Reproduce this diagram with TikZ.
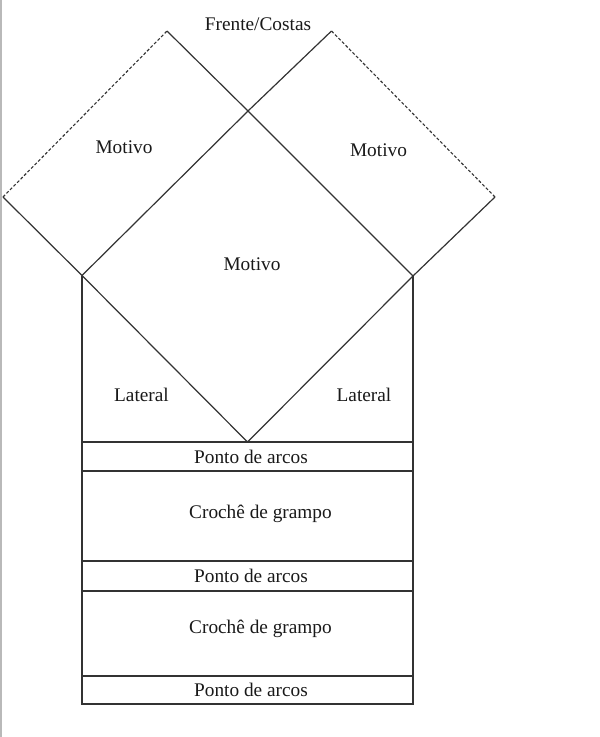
\documentclass[tikz,border=0pt]{standalone}
\usepackage{fontspec}
\setmainfont{Liberation Serif}
\begin{document}
\begin{tikzpicture}[x=1pt,y=-1pt,
  edge/.style={draw=black!80,line width=1.2pt},
  dashedge/.style={draw=black!80,line width=1.1pt,dash pattern=on 3pt off 2pt},
  lbl/.style={font=\fontsize{19.3}{23}\selectfont,inner sep=0pt,anchor=base,text=black!90}]
\useasboundingbox (0,0) rectangle (600,737);
\draw[gray!55,line width=2.2pt] (1,0) -- (1,737);
% corners
\coordinate (T1) at (167,31);
\coordinate (L1) at (3,197);
\coordinate (X)  at (248,111);
\coordinate (T2) at (331.5,31);
\coordinate (R2) at (495,197);
\coordinate (ML) at (82,275.5);
\coordinate (MR) at (413,276);
\coordinate (MB) at (247.5,442);
\coordinate (h1l) at (82,442);   \coordinate (h1r) at (413,442);
\coordinate (h2l) at (82,471);   \coordinate (h2r) at (413,471);
\coordinate (h3l) at (82,561);   \coordinate (h3r) at (413,561);
\coordinate (h4l) at (82,591);   \coordinate (h4r) at (413,591);
\coordinate (h5l) at (82,676);   \coordinate (h5r) at (413,676);
\coordinate (BL) at (82,704);    \coordinate (BR) at (413,704);
% diamonds
\draw[dashedge] (L1) -- (T1);
\draw[dashedge] (T2) -- (R2);
\draw[edge] (T1) -- (X) -- (MR);
\draw[edge] (T2) -- (X) -- (ML);
\draw[edge] (L1) -- (ML) -- (MB) -- (MR) -- (R2);
% rectangle
\draw[edge] (ML) -- (BL) -- (BR) -- (MR);
\draw[edge] (h1l) -- (h1r);
\draw[edge] (h2l) -- (h2r);
\draw[edge] (h3l) -- (h3r);
\draw[edge] (h4l) -- (h4r);
\draw[edge] (h5l) -- (h5r);
% labels
\node[lbl] (fc) at (258,30) {Frente/Costas};
\node[lbl] (m1) at (124,153) {Motivo};
\node[lbl] (m2) at (378.5,156.5) {Motivo};
\node[lbl] (m3) at (252,270) {Motivo};
\node[lbl] (lat1) at (141.5,401.5) {Lateral};
\node[lbl] (lat2) at (364,401.5) {Lateral};
\node[lbl] (p1) at (251,463.5) {Ponto de arcos};
\node[lbl] (c1) at (260.5,518) {Crochê de grampo};
\node[lbl] (p2) at (251,582) {Ponto de arcos};
\node[lbl] (c2) at (260.5,633) {Crochê de grampo};
\node[lbl] (p3) at (251,696) {Ponto de arcos};
\end{tikzpicture}
\end{document}
